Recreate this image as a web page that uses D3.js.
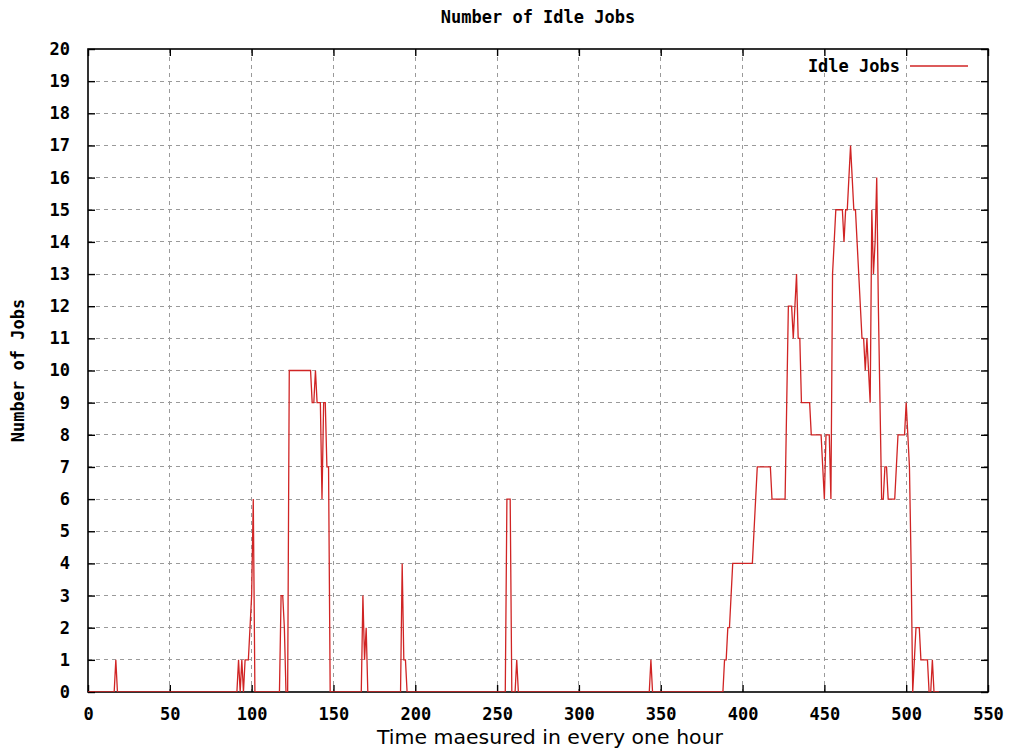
<!DOCTYPE html>
<html>
<head>
<meta charset="utf-8">
<script src="https://cdn.jsdelivr.net/npm/d3@7"></script>
<style>
  body { margin: 0; background: #fff; }
  svg { display: block; }
</style>
</head>
<body>
<svg id="chart" width="1011" height="751"></svg>
<script>
// Hourly samples of idle jobs (hours where the count changes; flat stretches in between)
const hours = [
  0, 16, 17, 18,
  91, 92, 93, 94, 95, 96, 97, 98, 99, 100, 101, 102,
  117, 118, 119, 120, 121, 122, 123, 136, 137, 138, 139, 140, 142, 143, 144, 145, 146, 147, 148,
  167, 168, 169, 170, 171,
  191, 192, 193, 194, 195,
  255, 256, 258, 259, 261, 262, 263,
  343, 344, 345,
  388, 389, 390, 391, 392, 393, 394, 406, 407, 408, 409, 417, 418,
  426, 427, 428, 429, 430, 431, 432, 433, 434, 435, 436, 441, 442,
  448, 449, 450, 451, 453, 454, 455, 456, 457,
  461, 462, 463, 464, 465, 466, 467, 468, 469, 470, 471, 472, 473, 474, 475,
  476, 477, 478, 479, 480, 481, 482, 483, 484, 485, 486, 487, 488, 489,
  493, 494, 495, 499, 500, 501, 502, 503, 504, 505, 506, 508, 509,
  513, 514, 515, 516, 517, 520
];
const idleJobs = [
  0, 0, 1, 0,
  0, 1, 0, 1, 0, 1, 1, 1, 2, 3, 6, 0,
  0, 3, 3, 2, 0, 0, 10, 10, 9, 9, 10, 9, 9, 6, 9, 9, 7, 7, 0,
  0, 3, 1, 2, 0,
  0, 4, 1, 1, 0,
  0, 6, 6, 0, 0, 1, 0,
  0, 1, 0,
  0, 1, 1, 2, 2, 3, 4, 4, 5, 6, 7, 7, 6,
  6, 9, 12, 12, 12, 11, 12, 13, 11, 11, 9, 9, 8,
  8, 7, 6, 8, 8, 6, 13, 14, 15,
  15, 14, 15, 15, 16, 17, 16, 15, 15, 14, 13, 12, 11, 11, 10,
  11, 10, 9, 15, 13, 14, 16, 12, 9, 6, 6, 7, 7, 6,
  6, 7, 8, 8, 9, 8, 7, 4, 0, 1, 2, 2, 1,
  1, 0, 0, 1, 0, 0
];
const xTickValues = [0, 50, 100, 150, 200, 250, 300, 350, 400, 450, 500, 550];
const yTickValues = [0, 1, 2, 3, 4, 5, 6, 7, 8, 9, 10, 11, 12, 13, 14, 15, 16, 17, 18, 19, 20];
const seriesName = "Idle Jobs";
const chartTitle = "Number of Idle Jobs";
const xTitle = "Time maesured in every one hour";
const yTitle = "Number of Jobs";

const W = 1011, H = 751;
const margin = { left: 88, right: 23, top: 49, bottom: 59 };
const iw = W - margin.left - margin.right;
const ih = H - margin.top - margin.bottom;

const monoFont = "'DejaVu Sans Mono', 'Liberation Mono', monospace";
const lineColor = "#d02424";

const svg = d3.select("#chart");
const g = svg.append("g").attr("transform", `translate(${margin.left},${margin.top})`);

const x = d3.scaleLinear().domain([0, 550]).range([0, iw]);
const y = d3.scaleLinear().domain([0, 20]).range([ih, 0]);

// Dashed grid
g.append("g").selectAll("line").data(xTickValues.slice(1, -1)).join("line")
  .attr("x1", d => x(d)).attr("x2", d => x(d)).attr("y1", 0).attr("y2", ih)
  .attr("stroke", "#9a9a9a").attr("stroke-width", 1).attr("stroke-dasharray", "4,4")
  .attr("shape-rendering", "crispEdges");
g.append("g").selectAll("line").data(yTickValues.slice(1, -1)).join("line")
  .attr("x1", 0).attr("x2", iw).attr("y1", d => y(d)).attr("y2", d => y(d))
  .attr("stroke", "#9a9a9a").attr("stroke-width", 1).attr("stroke-dasharray", "4,4")
  .attr("shape-rendering", "crispEdges");

// Axes with inward ticks, mirrored on top and right
const tickLen = 7;
const styleAxis = sel => {
  sel.select(".domain").remove();
  sel.selectAll(".tick line").attr("stroke", "#000").attr("stroke-width", 1.4);
  sel.selectAll(".tick text")
    .attr("font-family", monoFont).attr("font-weight", "bold")
    .attr("font-size", "17px").attr("fill", "#000");
};
g.append("g").attr("transform", `translate(0,${ih})`)
  .call(d3.axisBottom(x).tickValues(xTickValues).tickSizeInner(-tickLen).tickSizeOuter(0).tickPadding(16))
  .call(styleAxis);
g.append("g")
  .call(d3.axisLeft(y).tickValues(yTickValues).tickSizeInner(-tickLen).tickSizeOuter(0).tickPadding(18))
  .call(styleAxis);
g.append("g")
  .call(d3.axisTop(x).tickValues(xTickValues).tickSizeInner(-tickLen).tickSizeOuter(0).tickFormat(""))
  .call(styleAxis);
g.append("g").attr("transform", `translate(${iw},0)`)
  .call(d3.axisRight(y).tickValues(yTickValues).tickSizeInner(-tickLen).tickSizeOuter(0).tickFormat(""))
  .call(styleAxis);

// Border
g.append("rect").attr("x", 0).attr("y", 0).attr("width", iw).attr("height", ih)
  .attr("fill", "none").attr("stroke", "#000").attr("stroke-width", 1.6);

// Series
g.append("clipPath").attr("id", "plot-clip")
  .append("rect").attr("width", iw).attr("height", ih);
const pts = hours.map((h, i) => [h, idleJobs[i]]);
g.append("path").datum(pts)
  .attr("clip-path", "url(#plot-clip)")
  .attr("fill", "none").attr("stroke", lineColor).attr("stroke-width", 1.3)
  .attr("stroke-linejoin", "miter")
  .attr("d", d3.line().x(d => x(d[0])).y(d => y(d[1])));

// Legend
const lg = g.append("g").attr("transform", `translate(${iw - 88},${17})`);
lg.append("text").attr("x", 0).attr("y", 6).attr("text-anchor", "end")
  .attr("font-family", monoFont).attr("font-weight", "bold").attr("font-size", "17px")
  .text(seriesName);
lg.append("line").attr("x1", 10).attr("x2", 68).attr("y1", 0).attr("y2", 0)
  .attr("stroke", lineColor).attr("stroke-width", 1.3);

// Titles
svg.append("text").attr("x", margin.left + iw / 2).attr("y", 23)
  .attr("text-anchor", "middle")
  .attr("font-family", monoFont).attr("font-weight", "bold").attr("font-size", "17px")
  .text(chartTitle);
svg.append("text").attr("x", 550).attr("y", 744)
  .attr("text-anchor", "middle")
  .attr("font-family", "'DejaVu Sans', sans-serif").attr("font-size", "19px")
  .attr("textLength", 346).attr("lengthAdjust", "spacingAndGlyphs")
  .text(xTitle);
svg.append("text")
  .attr("transform", `translate(24,${margin.top + ih / 2}) rotate(-90)`)
  .attr("text-anchor", "middle")
  .attr("font-family", monoFont).attr("font-weight", "bold").attr("font-size", "17px")
  .text(yTitle);
</script>
</body>
</html>
